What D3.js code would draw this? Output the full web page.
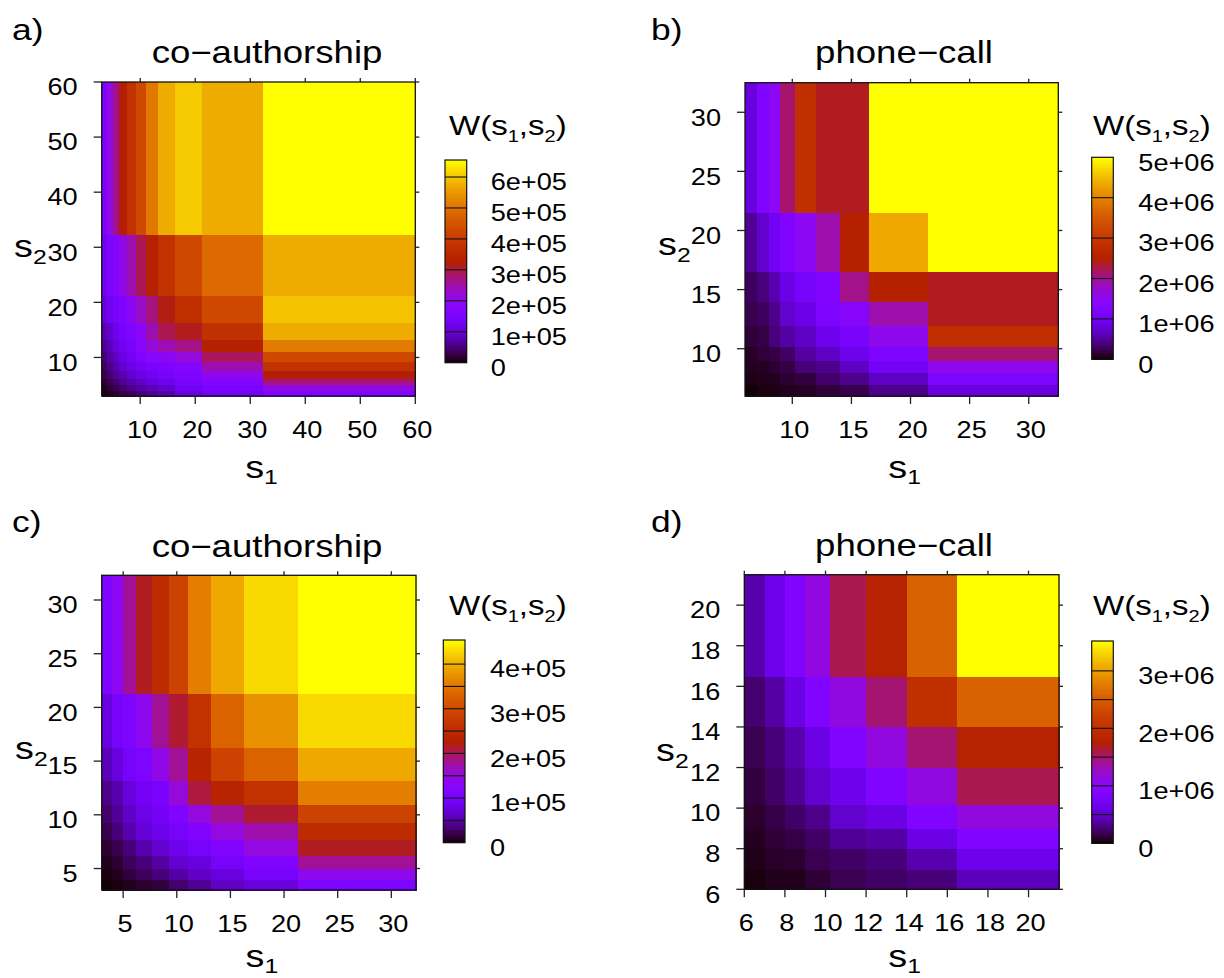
<!DOCTYPE html>
<html><head><meta charset="utf-8">
<script src="https://cdn.jsdelivr.net/npm/d3@7"></script>
<style>
body{margin:0;background:#fff}
text{font-family:"Liberation Sans",Arial,Helvetica,sans-serif;fill:#000}
</style>
</head><body>
<svg id="chart" width="1224" height="978"></svg>
<script>
// ---------------- DATA ----------------
// bin edges (strength s) for each panel
const edgesA = [3, 4, 5, 6.2, 7.65, 9.25, 11, 13.2, 16.3, 21.25, 32.3, 60];
const edgesB = [6, 7, 8, 9, 10.2, 12, 14, 16.5, 21.5, 32.5];
const edgesC = [3, 4, 5, 6.2, 7.7, 9.3, 11, 13.2, 16.3, 21.3, 32.3];
const edgesD = [6, 7, 8, 9, 10.2, 12, 14, 16.5, 21.5];

// W(s1,s2); rows = s2 bins from bottom, columns = s1 bins from left
// panel a, c in units of 1e5 ; panel b, d in units of 1e6
const wA = [
  [0.07,0.13,0.20,0.33,0.39,0.52,0.65,0.78,1.11,1.30,1.63],
  [0.13,0.23,0.33,0.46,0.59,0.72,0.85,0.98,1.30,1.55,2.10],
  [0.20,0.33,0.46,0.65,0.78,0.91,1.11,1.24,1.50,1.70,2.75],
  [0.33,0.46,0.65,0.78,0.98,1.17,1.30,1.43,1.63,2.05,3.26],
  [0.39,0.59,0.78,0.98,1.17,1.37,1.50,1.63,1.80,2.48,3.78],
  [0.52,0.72,0.91,1.17,1.37,1.63,1.83,1.96,2.20,2.90,4.30],
  [0.65,0.85,1.11,1.30,1.50,1.83,2.22,2.45,2.70,3.30,5.15],
  [0.78,0.98,1.24,1.43,1.63,1.96,2.48,2.95,3.15,3.75,5.74],
  [1.11,1.30,1.50,1.63,1.96,2.35,2.74,3.20,3.70,4.30,6.00],
  [1.30,1.63,1.76,2.09,2.48,2.93,3.33,3.78,4.30,4.89,5.74],
  [1.63,2.15,2.67,3.26,3.78,4.30,5.09,5.74,6.06,5.74,6.70]
];
const wB = [
  [0.025,0.05,0.06,0.10,0.12,0.18,0.25,0.45,0.85],
  [0.06,0.08,0.10,0.15,0.20,0.35,0.45,0.70,1.20],
  [0.10,0.11,0.15,0.22,0.40,0.45,0.70,1.05,1.55],
  [0.12,0.18,0.22,0.32,0.55,0.70,0.95,1.20,2.15],
  [0.18,0.22,0.40,0.55,0.70,0.95,1.15,1.55,2.85],
  [0.25,0.30,0.45,0.75,0.90,1.20,1.40,1.90,2.40],
  [0.30,0.40,0.60,0.90,1.10,1.30,2.05,2.50,2.40],
  [0.50,0.75,1.00,1.25,1.50,1.90,2.50,4.35,5.20],
  [0.85,1.25,1.50,2.15,2.85,2.40,2.40,5.20,5.20]
];
const wC = [
  [0.02,0.05,0.09,0.14,0.18,0.32,0.45,0.64,0.77,1.09],
  [0.05,0.09,0.18,0.27,0.36,0.50,0.64,0.77,1.00,1.41],
  [0.09,0.14,0.27,0.36,0.50,0.68,0.77,1.00,1.14,1.82],
  [0.14,0.23,0.36,0.54,0.68,0.86,1.00,1.18,1.50,2.18],
  [0.23,0.36,0.54,0.73,0.86,1.00,1.14,1.50,1.73,2.50],
  [0.32,0.45,0.64,0.82,0.95,1.14,1.50,1.82,2.13,2.90],
  [0.41,0.54,0.77,0.95,1.04,1.54,2.09,2.36,2.63,3.59],
  [0.59,0.77,1.00,1.09,1.45,1.82,2.36,2.90,3.31,3.95],
  [0.77,1.00,1.09,1.41,1.82,2.13,2.63,3.31,3.77,4.31],
  [1.09,1.36,1.82,2.18,2.50,2.90,3.59,3.95,4.31,4.60]
];
const wD = [
  [0.03,0.06,0.06,0.12,0.18,0.23,0.28,0.46],
  [0.05,0.09,0.10,0.18,0.23,0.28,0.42,0.67],
  [0.07,0.12,0.16,0.23,0.35,0.39,0.63,0.88],
  [0.10,0.16,0.23,0.32,0.53,0.63,0.88,1.16],
  [0.14,0.23,0.35,0.53,0.67,0.88,1.16,1.58],
  [0.18,0.28,0.42,0.63,0.88,1.16,1.50,1.82],
  [0.25,0.39,0.63,0.88,1.16,1.50,2.00,2.56],
  [0.42,0.67,0.88,1.16,1.58,1.82,2.56,3.60]
];

// axis ticks
const ticksA = [10, 20, 30, 40, 50, 60];
const ticksB = [10, 15, 20, 25, 30];
const ticksC = [5, 10, 15, 20, 25, 30];
const ticksD = [6, 8, 10, 12, 14, 16, 18, 20];

// colour-bar ranges, ticks and labels (same units as the values)
const cbMaxA = 6.55, cbTicksA = [0,1,2,3,4,5,6], cbLabelsA = ["0","1e+05","2e+05","3e+05","4e+05","5e+05","6e+05"], cbLinesA = [1,2,3,4,5,6];
const cbMaxB = 5.0,  cbTicksB = [0,1,2,3,4,5],   cbLabelsB = ["0","1e+06","2e+06","3e+06","4e+06","5e+06"],           cbLinesB = [1,2,3,4];
const cbMaxC = 4.54, cbTicksC = [0,1,2,3,4],     cbLabelsC = ["0","1e+05","2e+05","3e+05","4e+05"],                    cbLinesC = [0.5,1,1.5,2,2.5,3,3.5,4];
const cbMaxD = 3.52, cbTicksD = [0,1,2,3],       cbLabelsD = ["0","1e+06","2e+06","3e+06"],                            cbLinesD = [0.5,1,1.5,2,2.5,3];

const titles = ["co\u2212authorship", "phone\u2212call", "co\u2212authorship", "phone\u2212call"];
const letters = ["a)", "b)", "c)", "d)"];

// ---------------- DRAWING ----------------
const svg = d3.select("#chart");
const SX = 1.18; // horizontal stretch of the glyphs in the reference

function gnuplotPalette(t) { // rgbformulae 7,5,15
  t = Math.max(0, Math.min(1, t));
  const r = Math.sqrt(t), g = t * t * t, b = Math.max(0, Math.sin(2 * Math.PI * t));
  return d3.rgb(r * 255, g * 255, b * 255).toString();
}

function stext(x, y, anchor, size) {
  return svg.append("text")
    .attr("transform", `translate(${x},${y}) scale(${SX},1)`)
    .attr("text-anchor", anchor).attr("font-size", size);
}

const panels = [
  {L:101.7, R:415.3, T:82,    B:396,   edges:edgesA, w:wA, ticks:ticksA,
   cb:{x:445,    w:21.7, T:160,   B:362.7, max:cbMaxA, ticks:cbTicksA, labels:cbLabelsA, lines:cbLinesA, lx:490.7},
   title:[267,63.3], letter:[12,39.5], wt:[449,135], s2:[14,256.7], s1y:478.3},
  {L:745,   R:1058.3,T:82.7,  B:396,   edges:edgesB, w:wB, ticks:ticksB,
   cb:{x:1091.7, w:21.6, T:157.3, B:359.3, max:cbMaxB, ticks:cbTicksB, labels:cbLabelsB, lines:cbLinesB, lx:1138.3},
   title:[904,63.3], letter:[651,39.5], wt:[1093,135], s2:[658,255], s1y:478.3},
  {L:101.7, R:416,   T:575.3, B:890,   edges:edgesC, w:wC, ticks:ticksC,
   cb:{x:443.3,  w:21.7, T:640,   B:842.7, max:cbMaxC, ticks:cbTicksC, labels:cbLabelsC, lines:cbLinesC, lx:490},
   title:[267,556.6], letter:[12,532], wt:[449,615], s2:[15,758.5], s1y:967},
  {L:744.3, R:1059,  T:574.7, B:889.3, edges:edgesD, w:wD, ticks:ticksD,
   cb:{x:1091.7, w:21.6, T:641,   B:843.3, max:cbMaxD, ticks:cbTicksD, labels:cbLabelsD, lines:cbLinesD, lx:1138.3},
   title:[904,556],  letter:[651,532], wt:[1093,615], s2:[656,761], s1y:967}
];

panels.forEach((p, k) => {
  const ext = [p.edges[0], p.edges[p.edges.length - 1]];
  const x = d3.scaleLinear().domain(ext).range([p.L, p.R]);
  const y = d3.scaleLinear().domain(ext).range([p.B, p.T]);
  const col = d3.scaleSequential(gnuplotPalette).domain([0, p.cb.max]).clamp(true);

  // cells
  const cells = [];
  p.w.forEach((row, j) => row.forEach((v, i) => cells.push({i, j, v})));
  svg.append("g").attr("shape-rendering", "crispEdges").selectAll("rect").data(cells).join("rect")
    .attr("x", d => x(p.edges[d.i]))
    .attr("width", d => x(p.edges[d.i + 1]) - x(p.edges[d.i]) + 0.5)
    .attr("y", d => y(p.edges[d.j + 1]))
    .attr("height", d => y(p.edges[d.j]) - y(p.edges[d.j + 1]) + 0.5)
    .attr("fill", d => col(d.v));

  // frame
  svg.append("rect").attr("x", p.L).attr("y", p.T).attr("width", p.R - p.L).attr("height", p.B - p.T)
    .attr("fill", "none").attr("stroke", "#111").attr("stroke-width", 1.3);

  // ticks
  const tg = svg.append("g").attr("stroke", "#222").attr("stroke-width", 1.3);
  p.ticks.forEach(t => {
    tg.append("line").attr("x1", x(t)).attr("x2", x(t)).attr("y1", p.B).attr("y2", p.B + 8);
    tg.append("line").attr("x1", x(t)).attr("x2", x(t)).attr("y1", p.T).attr("y2", p.T - 4);
    tg.append("line").attr("y1", y(t)).attr("y2", y(t)).attr("x1", p.L).attr("x2", p.L - 8);
    tg.append("line").attr("y1", y(t)).attr("y2", y(t)).attr("x1", p.R).attr("x2", p.R + 4);
    stext(x(t) + 2, p.B + 41.7, "middle", 23).text(t);
    stext(p.L - 24, y(t) + 13.3, "end", 23).text(t);
  });

  // axis labels
  const xl = stext((p.L + p.R) / 2 + 3, p.s1y, "middle", 32);
  xl.append("tspan").text("s");
  xl.append("tspan").attr("font-size", 21).attr("dy", 6).text("1");
  const yl = stext(p.s2[0], p.s2[1], "start", 32);
  yl.append("tspan").text("s");
  yl.append("tspan").attr("font-size", 21).attr("dy", 7).text("2");

  // title & letter
  stext(p.title[0], p.title[1], "middle", 31).text(titles[k]);
  stext(p.letter[0], p.letter[1], "start", 30).text(letters[k]);

  // colour bar
  const c = p.cb;
  const cy = d3.scaleLinear().domain([0, c.max]).range([c.B, c.T]);
  const N = 120;
  svg.append("g").attr("shape-rendering", "crispEdges").selectAll("rect")
    .data(d3.range(N)).join("rect")
    .attr("x", c.x).attr("width", c.w)
    .attr("y", n => cy(c.max * (n + 1) / N))
    .attr("height", n => cy(c.max * n / N) - cy(c.max * (n + 1) / N) + 0.6)
    .attr("fill", n => col(c.max * (n + 0.5) / N));
  svg.append("g").selectAll("line").data(c.lines).join("line")
    .attr("x1", c.x).attr("x2", c.x + c.w).attr("y1", v => cy(v)).attr("y2", v => cy(v))
    .attr("stroke", "#111").attr("stroke-width", 1.1);
  svg.append("rect").attr("x", c.x).attr("y", c.T).attr("width", c.w).attr("height", c.B - c.T)
    .attr("fill", "none").attr("stroke", "#111").attr("stroke-width", 1.2);
  c.ticks.forEach((v, m) => stext(c.lx, cy(v) + 13.3, "start", 23).text(c.labels[m]));

  // colour bar title W(s1,s2)
  const wt = stext(p.wt[0], p.wt[1], "start", 28);
  wt.append("tspan").text("W(s");
  wt.append("tspan").attr("font-size", 17).attr("dy", 7).text("1");
  wt.append("tspan").attr("dy", -7).text(",s");
  wt.append("tspan").attr("font-size", 17).attr("dy", 7).text("2");
  wt.append("tspan").attr("dy", -7).text(")");
});
</script>
</body></html>
